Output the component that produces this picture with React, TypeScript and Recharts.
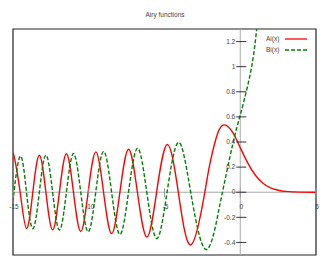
import { LineChart, Line, XAxis, YAxis, ReferenceLine, ReferenceArea, Legend } from "recharts";

// Ai(x): zeros, extrema and a few extra points
const aiX = [-15, -14.928, -14.528, -14.106, -13.692, -13.261, -12.829, -12.385, -11.936, -11.475, -11.009, -10.528, -10.04, -9.535, -9.023, -8.488, -7.944, -7.372, -6.787, -6.163, -5.521, -4.82, -4.088, -3.248, -2.338, -2, -1.5, -1.019, -0.5, 0, 0.5, 1, 1.5, 2, 2.5, 3, 4, 5];
const aiY = [0.284, 0.285, 0, -0.29, 0, 0.294, 0, -0.3, 0, 0.306, 0, -0.313, 0, 0.321, 0, -0.33, 0, 0.342, 0, -0.358, 0, 0.38, 0, -0.419, 0, 0.227, 0.465, 0.536, 0.476, 0.355, 0.232, 0.135, 0.072, 0.035, 0.016, 0.007, 0.001, 0.0001];

// Bi(x)
const biX = [-15, -14.934, -14.527, -14.11, -13.691, -13.261, -12.828, -12.385, -11.934, -11.475, -11.007, -10.529, -10.037, -9.539, -9.02, -8.491, -7.94, -7.376, -6.781, -6.17, -5.513, -4.831, -4.073, -3.271, -2.294, -1.5, -1.174, -0.5, 0, 0.5, 1, 1.5];
const biY = [-0.045, 0, 0.286, 0, -0.291, 0, 0.296, 0, -0.301, 0, 0.308, 0, -0.315, 0, 0.325, 0, -0.336, 0, 0.35, 0, -0.369, 0, 0.397, 0, -0.455, -0.192, 0, 0.38, 0.615, 0.854, 1.207, 1.879];

const xTicks = [-15, -10, -5, 0, 5];
const yTicks = [-0.4, -0.2, 0, 0.2, 0.4, 0.6, 0.8, 1, 1.2];
const xDomain = [-15, 5];
const yDomain = [-0.5, 1.3];

const aiData = aiX.map((x, i) => ({ x, y: aiY[i] }));
const biData = biX.map((x, i) => ({ x, y: biY[i] }));

const W = 330;
const H = 264;
const margin = { top: 29, right: 14, bottom: 8, left: 12 };
// plot area: axes take 1px each
const plotLeft = margin.left + 1;
const plotTop = margin.top;
const plotW = W - plotLeft - margin.right;
const plotH = H - plotTop - margin.bottom - 1;
const zeroX = plotLeft + (plotW * (0 - xDomain[0])) / (xDomain[1] - xDomain[0]);
const zeroY = plotTop + (plotH * yDomain[1]) / (yDomain[1] - yDomain[0]);

const font = "'Liberation Sans', Arial, sans-serif";
const textColor = "#444";

const XTick = (props: any) => {
  const { x, payload } = props;
  return (
    <g>
      <line x1={x} x2={x} y1={zeroY - 4} y2={zeroY + 5} stroke="#999" />
      <text x={x + 1} y={zeroY + 17} textAnchor="middle" fontSize={6.5} fontFamily={font} fill={textColor}>
        {payload.value}
      </text>
    </g>
  );
};

const YTick = (props: any) => {
  const { y, payload } = props;
  return (
    <g>
      <line x1={zeroX - 4} x2={zeroX + 6} y1={y} y2={y} stroke="#333" />
      <text x={zeroX - 5} y={y} dy="0.35em" textAnchor="end" fontSize={6.5} fontFamily={font} fill={textColor}>
        {payload.value}
      </text>
    </g>
  );
};

const LegendBox = (props: any) => {
  const { payload } = props;
  return (
    <div style={{ fontFamily: font, fontSize: 6.5, color: textColor }}>
      {payload.map((p: any) => (
        <div key={p.value} style={{ display: "flex", alignItems: "center", height: 11 }}>
          <span style={{ width: 19 }}>{p.value}</span>
          <svg width={22} height={4}>
            <line x1={0} x2={22} y1={2} y2={2} stroke={p.color} strokeWidth={1.3} strokeDasharray={p.payload.strokeDasharray} />
          </svg>
        </div>
      ))}
    </div>
  );
};

export default function App() {
  return (
    <div style={{ position: "absolute", left: 0, top: 0, width: W, height: H, background: "#fff" }}>
      <div
        style={{
          position: "absolute",
          top: 11,
          width: W,
          textAlign: "center",
          fontFamily: font,
          fontSize: 6.5,
          color: textColor,
        }}
      >
        Airy functions
      </div>
      <LineChart width={W} height={H} margin={margin}>
        <XAxis
          type="number"
          dataKey="x"
          domain={xDomain}
          ticks={xTicks}
          height={1}
          axisLine={false}
          tickLine={false}
          tick={<XTick />}
          allowDataOverflow
          interval={0}
        />
        <YAxis
          type="number"
          domain={yDomain}
          ticks={yTicks}
          width={1}
          axisLine={false}
          tickLine={false}
          tick={<YTick />}
          allowDataOverflow
          interval={0}
        />
        <ReferenceLine x={0} stroke="#aaa" />
        <ReferenceLine y={0} stroke="#aaa" />
        <ReferenceArea x1={xDomain[0]} x2={xDomain[1]} y1={yDomain[0]} y2={yDomain[1]} fill="none" stroke="#222" strokeWidth={1.2} />
        <Line data={aiData} dataKey="y" name="Ai(x)" type="natural" stroke="#ff0000" strokeWidth={1.4} dot={false} isAnimationActive={false} />
        <Line data={biData} dataKey="y" name="Bi(x)" type="natural" stroke="#008000" strokeWidth={1.4} strokeDasharray="4 2" dot={false} isAnimationActive={false} />
        <Legend
          content={<LegendBox />}
          layout="vertical"
          align="center"
          verticalAlign="middle"
          wrapperStyle={{ top: 33, left: 266, width: 48 }}
        />
      </LineChart>
    </div>
  );
}
